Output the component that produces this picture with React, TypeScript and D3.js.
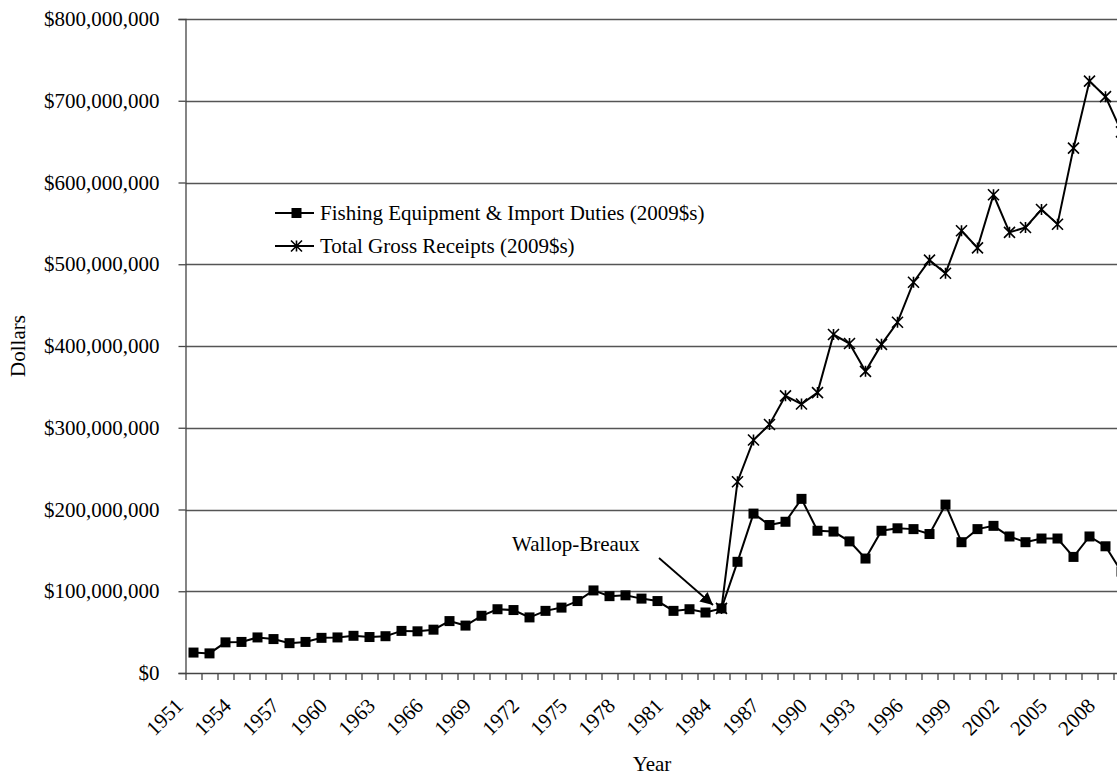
import { useEffect, useRef } from "react"
import * as d3 from "d3"

// years on the category axis
const years = [
  1951, 1952, 1953, 1954, 1955, 1956, 1957, 1958, 1959, 1960,
  1961, 1962, 1963, 1964, 1965, 1966, 1967, 1968, 1969, 1970,
  1971, 1972, 1973, 1974, 1975, 1976, 1977, 1978, 1979, 1980,
  1981, 1982, 1983, 1984, 1985, 1986, 1987, 1988, 1989, 1990,
  1991, 1992, 1993, 1994, 1995, 1996, 1997, 1998, 1999, 2000,
  2001, 2002, 2003, 2004, 2005, 2006, 2007, 2008, 2009,
]

// Fishing Equipment & Import Duties (2009$s), in millions
const equipment = [
  25, 24, 37.5, 38, 43.5, 41.5, 36.5, 38, 43, 43.5,
  45.5, 44, 45, 51.5, 51, 53, 63.5, 58, 70, 78,
  77, 68, 76, 80, 88, 101, 94, 95, 91, 88,
  76, 78, 74, 79, 136, 195, 181, 185, 213, 174,
  173, 161, 140, 174, 177, 176, 170, 206, 160, 176,
  180, 167, 160, 164.5, 164.5, 142, 167, 155, 124,
]

// Total Gross Receipts (2009$s), in millions, reported from 1984 on
const totalYears = [
  1984, 1985, 1986, 1987, 1988, 1989, 1990, 1991, 1992, 1993,
  1994, 1995, 1996, 1997, 1998, 1999, 2000, 2001, 2002, 2003,
  2004, 2005, 2006, 2007, 2008, 2009,
]
const totalReceipts = [
  79, 234, 285, 304, 339, 329, 343, 414, 403, 369,
  402, 429, 478, 505, 489, 541, 520, 585, 539, 545,
  567, 549, 642, 724, 705, 662,
]

const yTicks = [0, 100, 200, 300, 400, 500, 600, 700, 800]
const seriesNames = ["Fishing Equipment & Import Duties (2009$s)", "Total Gross Receipts (2009$s)"]

const FONT = "'Liberation Serif', 'Times New Roman', serif"

const App = () => {
  const svgRef = useRef<SVGSVGElement>(null)

  useEffect(() => {
    if (!svgRef.current) return
    const svg = d3.select(svgRef.current)
    svg.selectAll("*").remove()

    const left = 185.5
    const top = 19
    const bottom = 673
    const band = 16

    // category scale runs past the right edge of the picture, as in the source
    const x = d3
      .scaleBand<number>()
      .domain(years)
      .range([left, left + years.length * band])
      .padding(0)
    const cx = (yr: number) => (x(yr) || 0) + x.bandwidth() / 2
    const right = left + years.length * band

    const y = d3.scaleLinear().domain([0, 800]).range([bottom, top])

    const g = svg.append("g").attr("font-family", FONT)

    // gridlines
    g.append("g")
      .selectAll("line")
      .data(yTicks.filter((d) => d > 0))
      .enter()
      .append("line")
      .attr("x1", left)
      .attr("x2", right)
      .attr("y1", (d) => Math.round(y(d)) + 0.5)
      .attr("y2", (d) => Math.round(y(d)) + 0.5)
      .attr("stroke", "#555")
      .attr("stroke-width", 1.3)

    // y axis
    const yAxis = g
      .append("g")
      .attr("transform", `translate(${left},0)`)
      .call(
        d3
          .axisLeft(y)
          .tickValues(yTicks)
          .tickSize(7)
          .tickPadding(19)
          .tickFormat((d) => "$" + d3.format(",")((d as number) * 1e6)),
      )
    yAxis.select(".domain").attr("stroke", "#444").attr("stroke-width", 1.3)
    yAxis.selectAll(".tick line").attr("stroke", "#444").attr("stroke-width", 1.3)
    yAxis
      .selectAll("text")
      .attr("font-size", "21px")
      .attr("font-family", FONT)
      .attr("fill", "#000")

    // x axis
    g.append("line")
      .attr("x1", left)
      .attr("x2", right)
      .attr("y1", bottom + 0.5)
      .attr("y2", bottom + 0.5)
      .attr("stroke", "#444")
      .attr("stroke-width", 1.3)

    g.append("g")
      .selectAll("line")
      .data(years)
      .enter()
      .append("line")
      .attr("x1", (d) => (x(d) || 0) + 0.5)
      .attr("x2", (d) => (x(d) || 0) + 0.5)
      .attr("y1", bottom)
      .attr("y2", bottom + 7)
      .attr("stroke", "#444")
      .attr("stroke-width", 1.3)

    g.append("g")
      .selectAll("text")
      .data(years.filter((_, i) => i % 3 === 0))
      .enter()
      .append("text")
      .attr("transform", (d) => `translate(${cx(d) - 9},${bottom + 34}) rotate(-45)`)
      .attr("text-anchor", "end")
      .attr("font-size", "21px")
      .text((d) => d)

    // axis titles
    g.append("text")
      .attr("transform", `translate(25,346) rotate(-90)`)
      .attr("text-anchor", "middle")
      .attr("font-size", "21px")
      .text("Dollars")

    g.append("text")
      .attr("x", 652)
      .attr("y", 771)
      .attr("text-anchor", "middle")
      .attr("font-size", "21px")
      .text("Year")

    // series lines
    const clip = svg
      .append("defs")
      .append("clipPath")
      .attr("id", "plotclip")
      .append("rect")
      .attr("x", 0)
      .attr("y", 0)
      .attr("width", right + 20)
      .attr("height", 776)
    void clip

    const starPath = (s: number) => `M${-s},${-s}L${s},${s}M${-s},${s}L${s},${-s}M0,${-s}L0,${s}`

    const totalPts = totalYears.map((yr, i) => [cx(yr), y(totalReceipts[i])] as [number, number])
    const eqPts = years.map((yr, i) => [cx(yr), y(equipment[i])] as [number, number])
    const line = d3.line()

    g.append("path")
      .attr("d", line(totalPts))
      .attr("fill", "none")
      .attr("stroke", "#000")
      .attr("stroke-width", 2)

    g.append("g")
      .selectAll("path")
      .data(totalPts)
      .enter()
      .append("path")
      .attr("transform", (d) => `translate(${d[0]},${d[1]})`)
      .attr("d", starPath(5.5))
      .attr("stroke", "#000")
      .attr("stroke-width", 1.6)
      .attr("fill", "none")

    g.append("path")
      .attr("d", line(eqPts))
      .attr("fill", "none")
      .attr("stroke", "#000")
      .attr("stroke-width", 2)

    g.append("g")
      .selectAll("rect")
      .data(eqPts)
      .enter()
      .append("rect")
      .attr("x", (d) => d[0] - 5)
      .attr("y", (d) => d[1] - 5)
      .attr("width", 10)
      .attr("height", 10)
      .attr("fill", "#000")

    // legend
    const legend = g.append("g")
    seriesNames.forEach((name, i) => {
      const ly = 213 + i * 33
      legend
        .append("line")
        .attr("x1", 275)
        .attr("x2", 314)
        .attr("y1", ly)
        .attr("y2", ly)
        .attr("stroke", "#000")
        .attr("stroke-width", 2)
      if (i === 0) {
        legend
          .append("rect")
          .attr("x", 291.5)
          .attr("y", ly - 5)
          .attr("width", 10)
          .attr("height", 10)
          .attr("fill", "#000")
      } else {
        legend
          .append("path")
          .attr("transform", `translate(296.5,${ly})`)
          .attr("d", starPath(5.5))
          .attr("stroke", "#000")
          .attr("stroke-width", 1.6)
      }
      legend
        .append("text")
        .attr("x", 320)
        .attr("y", ly)
        .attr("dy", "0.35em")
        .attr("font-size", "21px")
        .text(name)
    })

    // Wallop-Breaux annotation
    svg
      .select("defs")
      .append("marker")
      .attr("id", "arrowhead")
      .attr("viewBox", "0 0 10 10")
      .attr("refX", 10)
      .attr("refY", 5)
      .attr("markerWidth", 7)
      .attr("markerHeight", 7)
      .attr("markerUnits", "strokeWidth")
      .attr("orient", "auto")
      .append("path")
      .attr("d", "M0,0L10,5L0,10Z")
      .attr("fill", "#000")

    g.append("line")
      .attr("x1", 659)
      .attr("y1", 558)
      .attr("x2", 713)
      .attr("y2", 605)
      .attr("stroke", "#000")
      .attr("stroke-width", 1.8)
      .attr("marker-end", "url(#arrowhead)")

    g.append("text")
      .attr("x", 576)
      .attr("y", 551)
      .attr("text-anchor", "middle")
      .attr("font-size", "21px")
      .text("Wallop-Breaux")
  }, [])

  return (
    <div style={{ position: "absolute", left: 0, top: 0, width: 1117, height: 776, overflow: "hidden", background: "#fff" }}>
      <svg ref={svgRef} width={1117} height={776} style={{ display: "block" }}></svg>
    </div>
  )
}

export default App
